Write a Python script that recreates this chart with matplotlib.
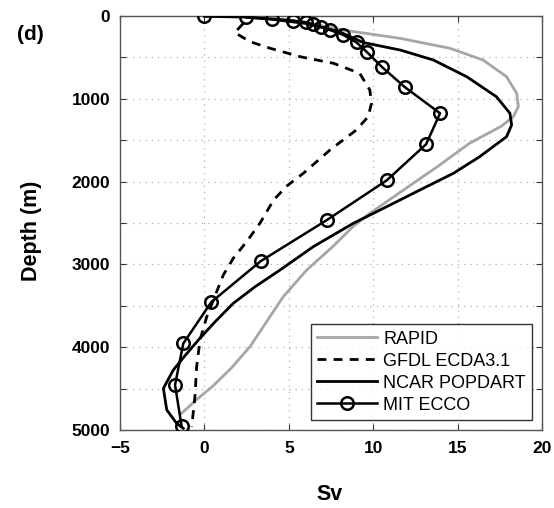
import matplotlib
matplotlib.use("Agg")
import matplotlib.pyplot as plt

plt.rcParams['font.family'] = ['Liberation Sans', 'DejaVu Sans']

# Overturning transport profiles (Sv) versus depth (m)
rapid_sv = [4.0, 6.0, 8.2, 11.6, 14.55, 16.5, 17.9, 18.5, 18.6, 18.3, 17.6, 15.7,
            13.8, 11.8, 9.8, 8.8, 7.6, 6.06, 4.67, 3.69, 2.7, 1.6, 0.5, -0.5, -1.35]
rapid_depth = [25, 80, 169, 270, 390, 531, 733, 934, 1095, 1216, 1330, 1538,
               1820, 2101, 2383, 2544, 2786, 3068, 3390, 3690, 3994, 4250, 4470,
               4640, 4798]

gfdl_sv = [2.3, 1.8, 2.7, 3.9, 5.66, 7.64, 9.2, 9.8, 9.9, 9.7, 9.0, 7.44, 5.86,
           4.9, 4.1, 3.3, 2.5, 1.71, 1.12, 0.14, -0.26, -0.46, -0.56, -0.75]
gfdl_depth = [90, 200, 310, 390, 491, 571, 692, 894, 1054, 1216, 1377, 1618,
              1900, 2050, 2222, 2500, 2726, 2926, 3128, 3632, 3913, 4235, 4597, 4960]

ncar_sv = [2.5, 4.0, 6.0, 8.0, 9.4, 11.6, 13.56, 15.54, 17.3, 18.1, 18.2, 17.9,
           16.3, 14.75, 12.77, 10.8, 8.82, 6.45, 4.48, 3.0, 1.71, 0.6, -0.3, -1.1,
           -1.84, -2.43, -2.23, -1.64, -1.25]
ncar_depth = [15, 40, 90, 190, 320, 411, 531, 733, 975, 1175, 1316, 1458, 1700,
              1900, 2101, 2303, 2504, 2786, 3068, 3270, 3470, 3700, 3900, 4090,
              4275, 4497, 4758, 4920, 4980]

ecco_sv = [0.0, 2.45, 4.0, 5.23, 6.02, 6.45, 6.89, 7.44, 8.19, 9.02, 9.65, 10.54,
           11.88, 13.96, 13.13, 10.8, 7.25, 3.34, 0.41, -1.25, -1.74, -1.35]
ecco_depth = [5, 15, 35, 55, 75, 100, 130, 170, 225, 320, 440, 620, 860, 1175,
              1550, 1985, 2465, 2960, 3455, 3955, 4455, 4955]

series_labels = ['RAPID', 'GFDL ECDA3.1', 'NCAR POPDART', 'MIT ECCO']
x_ticks = [-5, 0, 5, 10, 15, 20]
y_ticks = [0, 1000, 2000, 3000, 4000, 5000]

fig = plt.figure(figsize=(5.54, 5.08), dpi=100)
ax = fig.add_axes([120 / 554, 1 - 430 / 508, 422 / 554, 414 / 508])

ax.plot(rapid_sv, rapid_depth, color='#a6a6a6', lw=2.0, label=series_labels[0], zorder=2)
ax.plot(gfdl_sv, gfdl_depth, color='black', lw=2.0, ls=(0, (3.2, 2.6)),
        label=series_labels[1], zorder=3)
ax.plot(ncar_sv, ncar_depth, color='black', lw=2.0, label=series_labels[2], zorder=3)
ax.plot(ecco_sv, ecco_depth, color='black', lw=1.8, marker='o', ms=9,
        mfc='none', mec='black', mew=1.8, label=series_labels[3], zorder=4)

ax.set_xlim(-5, 20)
ax.set_ylim(5000, 0)
ax.set_xticks(x_ticks)
ax.set_yticks(y_ticks)
ax.set_yticks(range(500, 5000, 1000), minor=True)
ax.set_xticklabels([('\u2212' + str(abs(v))) if v < 0 else str(v) for v in x_ticks],
                   fontweight='bold', fontsize=12.5)
ax.set_yticklabels([str(v) for v in y_ticks], fontweight='bold', fontsize=12.5)

ax.grid(True, which='both', color='#b0b0b0', ls=(0, (1, 4)), lw=0.9)
ax.tick_params(which='both', direction='in', top=True, right=True, length=4,
               width=0.8, color='#333333')
ax.tick_params(axis='x', pad=8)
ax.tick_params(axis='y', pad=7)
for s in ax.spines.values():
    s.set_color('#555555')
    s.set_linewidth(1.0)

fig.text(330 / 554, 1 - 494 / 508, 'Sv', fontweight='bold', fontsize=15.5,
         ha='center', va='center')
fig.text(31 / 554, 1 - 231 / 508, 'Depth (m)', fontweight='bold', fontsize=15.5,
         rotation=90, ha='center', va='center')
fig.text(30 / 554, 1 - 34 / 508, '(d)', fontweight='bold', fontsize=15,
         ha='center', va='center')

leg = ax.legend(loc='lower right', bbox_to_anchor=(1.0, 0.0), frameon=True,
                fancybox=False, edgecolor='black', fontsize=13, handlelength=3.3,
                borderaxespad=0.55, labelspacing=0.28, handletextpad=0.35,
                borderpad=0.35)
leg.get_frame().set_linewidth(1.0)

fig.savefig('out.png', dpi=100)
